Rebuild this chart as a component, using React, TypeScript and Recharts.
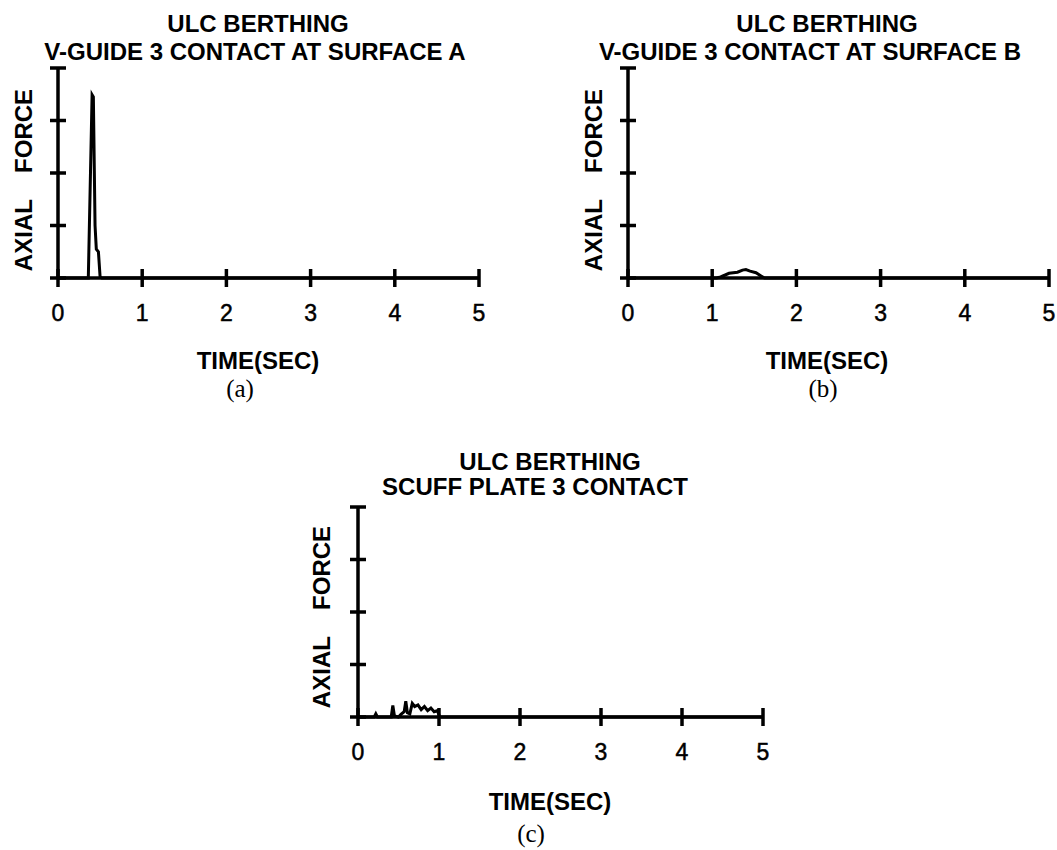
import React from 'react';
import { LineChart, Line, XAxis, YAxis } from 'recharts';

// axis ticks shared by all three plots
const timeTicks = [0, 1, 2, 3, 4, 5];
const forceTicks = [0, 1, 2, 3, 4];

// (a) V-guide 3, surface A
const timeA = [0, 0.35, 0.36, 0.405, 0.42, 0.44, 0.455, 0.48, 0.5, 0.52, 5];
const forceA = [0, 0, 0, 3.49, 3.45, 1.0, 0.55, 0.5, 0.02, 0, 0];

// (b) V-guide 3, surface B
const timeB = [0, 1.05, 1.1, 1.2, 1.3, 1.36, 1.4, 1.45, 1.52, 1.58, 1.62, 5];
const forceB = [0, 0, 0.02, 0.09, 0.11, 0.15, 0.16, 0.13, 0.1, 0.04, 0, 0];

// (c) scuff plate 3
const timeC = [0, 0.2, 0.22, 0.24, 0.41, 0.43, 0.45, 0.5, 0.53, 0.57, 0.59, 0.61, 0.64, 0.67, 0.7, 0.74, 0.78, 0.82, 0.86, 0.9, 0.94, 0.98, 1.01, 5];
const forceC = [0, 0, 0.06, 0, 0, 0.22, 0.02, 0, 0.05, 0.1, 0.3, 0.08, 0.06, 0.26, 0.2, 0.23, 0.14, 0.2, 0.12, 0.17, 0.1, 0.12, 0, 0];

const zip = (t: number[], f: number[]) => t.map((v, i) => ({ t: v, f: f[i] }));

const W = 1057;
const H = 850;
const sans = '"Liberation Sans", Arial, Helvetica, sans-serif';
const serif = '"Liberation Serif", "Times New Roman", serif';

type Box = { left: number; top: number; right: number; bottom: number };

function Panel({ data, box }: { data: { t: number; f: number }[]; box: Box }) {
  const { left, top, right, bottom } = box;

  const XTick = (p: any) => (
    <g>
      <line x1={p.x} x2={p.x} y1={bottom - 9} y2={bottom + 9} stroke="#000" strokeWidth={3.5} />
      <text
        x={p.x}
        y={bottom + 43}
        textAnchor="middle"
        fontSize={23}
        fontFamily={sans}
        fill="#000"
        stroke="#000"
        strokeWidth={0.5}
      >
        {p.payload.value}
      </text>
    </g>
  );

  const YTick = (p: any) => (
    <line x1={left - 8} x2={left + 8} y1={p.y} y2={p.y} stroke="#000" strokeWidth={3.5} />
  );

  // axes get 1px of room so that they still render
  return (
    <div style={{ position: 'absolute', left: 0, top: 0 }}>
      <LineChart
        width={W}
        height={H}
        data={data}
        margin={{ left: left - 1, top, right: W - right, bottom: H - bottom - 1 }}
      >
        <XAxis
          type="number"
          dataKey="t"
          domain={[0, 5]}
          ticks={timeTicks}
          height={1}
          axisLine={{ stroke: '#000', strokeWidth: 3.5 }}
          tickLine={false}
          tick={XTick}
          interval={0}
        />
        <YAxis
          type="number"
          domain={[0, 4]}
          ticks={forceTicks}
          width={1}
          axisLine={{ stroke: '#000', strokeWidth: 3.5 }}
          tickLine={false}
          tick={YTick}
          interval={0}
        />
        <Line
          type="linear"
          dataKey="f"
          stroke="#000"
          strokeWidth={3}
          dot={false}
          isAnimationActive={false}
        />
      </LineChart>
    </div>
  );
}

const titleStyle = { fontFamily: sans, fontWeight: 700, fontSize: 24, fill: '#000' } as const;

function Labels() {
  const axial = (x: number, y: number) => (
    <text
      x={x}
      y={y}
      transform={`rotate(-90 ${x} ${y})`}
      textAnchor="middle"
      style={{ whiteSpace: 'pre' }}
      {...titleStyle}
    >
      {'AXIAL    FORCE'}
    </text>
  );
  return (
    <svg width={W} height={H} style={{ position: 'absolute', left: 0, top: 0, pointerEvents: 'none' }}>
      <text x={258} y={32} textAnchor="middle" {...titleStyle}>ULC BERTHING</text>
      <text x={255} y={60} textAnchor="middle" {...titleStyle}>V-GUIDE 3 CONTACT AT SURFACE A</text>
      {axial(32, 180)}
      <text x={258} y={369} textAnchor="middle" {...titleStyle}>TIME(SEC)</text>
      <text x={240} y={397} textAnchor="middle" fontFamily={serif} fontSize={25} fill="#000">(a)</text>

      <text x={827} y={32} textAnchor="middle" {...titleStyle}>ULC BERTHING</text>
      <text x={810} y={60} textAnchor="middle" {...titleStyle}>V-GUIDE 3 CONTACT AT SURFACE B</text>
      {axial(602, 180)}
      <text x={827} y={369} textAnchor="middle" {...titleStyle}>TIME(SEC)</text>
      <text x={823} y={397} textAnchor="middle" fontFamily={serif} fontSize={25} fill="#000">(b)</text>

      <text x={550} y={470} textAnchor="middle" {...titleStyle}>ULC BERTHING</text>
      <text x={535} y={495} textAnchor="middle" {...titleStyle}>SCUFF PLATE 3 CONTACT</text>
      {axial(330, 617)}
      <text x={550} y={810} textAnchor="middle" {...titleStyle}>TIME(SEC)</text>
      <text x={531} y={842} textAnchor="middle" fontFamily={serif} fontSize={25} fill="#000">(c)</text>
    </svg>
  );
}

export default function App() {
  return (
    <div style={{ position: 'absolute', left: 0, top: 0, width: W, height: H, background: '#fff' }}>
      <Panel data={zip(timeA, forceA)} box={{ left: 58, top: 68, right: 479, bottom: 278 }} />
      <Panel data={zip(timeB, forceB)} box={{ left: 628, top: 68, right: 1049, bottom: 278 }} />
      <Panel data={zip(timeC, forceC)} box={{ left: 358, top: 507, right: 763, bottom: 717 }} />
      <Labels />
    </div>
  );
}
